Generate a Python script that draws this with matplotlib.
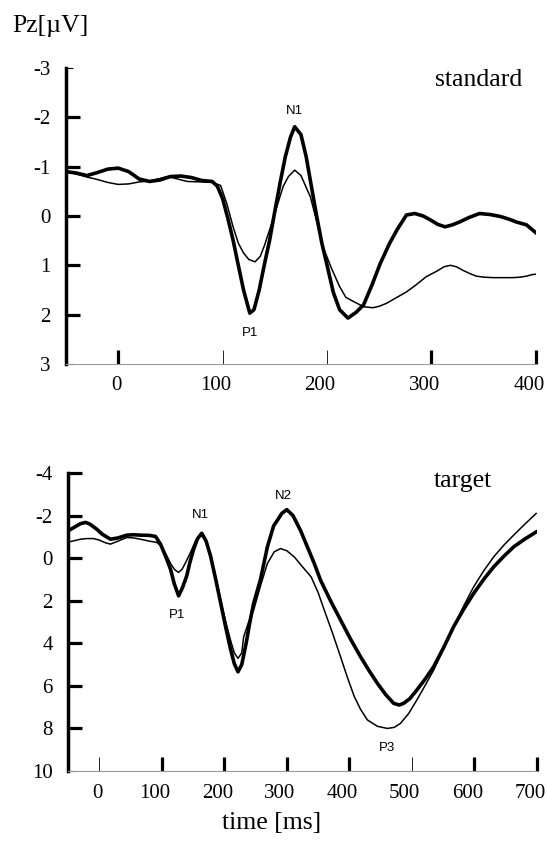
import matplotlib
matplotlib.use("Agg")
import matplotlib.pyplot as plt
from matplotlib.transforms import ScaledTranslation

plt.rcParams['font.family'] = ['Liberation Serif', 'DejaVu Serif']
plt.rcParams['axes.unicode_minus'] = False

# ---- standard condition (upper panel) ----
std_thick_t = [-50, -40, -30, -20, -10, 0, 10, 20, 30, 40, 50, 60, 70, 80, 90,
               95, 100, 105, 110, 115, 120, 126, 130, 135, 140, 145, 150, 155,
               160, 165, 169, 175, 180, 185, 190, 195, 200, 206, 212, 220, 228,
               235, 243, 251, 260, 267, 276, 284, 292, 299, 306, 313, 320, 327,
               336, 346, 356, 366, 375, 381, 391, 400]
std_thick_v = [-0.90, -0.87, -0.82, -0.88, -0.95, -0.97, -0.90, -0.75, -0.70,
               -0.73, -0.80, -0.81, -0.78, -0.72, -0.70, -0.60, -0.35, 0.05,
               0.49, 1.00, 1.50, 1.97, 1.90, 1.50, 0.98, 0.49, -0.10, -0.67,
               -1.20, -1.60, -1.81, -1.65, -1.20, -0.60, 0.00, 0.55, 1.00, 1.55,
               1.90, 2.07, 1.95, 1.80, 1.40, 0.96, 0.55, 0.28, -0.02, -0.05,
               0.00, 0.08, 0.17, 0.22, 0.18, 0.12, 0.03, -0.05, -0.03, 0.01,
               0.07, 0.12, 0.18, 0.34]

std_thin_t = [-50, -40, -30, -20, -10, 0, 10, 20, 30, 40, 47, 55, 66, 80, 90,
              98, 104, 110, 115, 120, 125, 131, 136, 140, 145, 150, 155, 158,
              163, 169, 175, 180, 184, 190, 196, 204, 212, 218, 225, 235, 244,
              250, 257, 266, 276, 285, 295, 305, 312, 318, 324, 330, 337, 343,
              350, 359, 368, 378, 385, 391, 396, 400]
std_thin_v = [-0.90, -0.85, -0.79, -0.74, -0.68, -0.64, -0.65, -0.69, -0.71,
              -0.76, -0.80, -0.76, -0.70, -0.69, -0.68, -0.62, -0.25, 0.22,
              0.55, 0.75, 0.88, 0.93, 0.82, 0.60, 0.28, -0.05, -0.40, -0.60,
              -0.80, -0.93, -0.82, -0.58, -0.39, 0.10, 0.62, 1.05, 1.43, 1.65,
              1.73, 1.84, 1.86, 1.83, 1.77, 1.66, 1.54, 1.40, 1.23, 1.12, 1.03,
              1.00, 1.03, 1.10, 1.17, 1.22, 1.24, 1.25, 1.25, 1.25, 1.24, 1.22,
              1.19, 1.18]

# ---- target condition (lower panel) ----
tgt_thick_t = [-50, -40, -30, -22, -15, -4, 5, 18, 30, 44, 55, 66, 80, 90, 98,
               106, 114, 120, 127, 133, 140, 145, 151, 157, 164, 171, 178, 186,
               194, 202, 210, 216, 222, 228, 235, 241, 247, 258, 269, 279, 285,
               292, 300, 310, 322, 332, 344, 354, 370, 386, 402, 418, 432, 445,
               458, 471, 480, 487, 497, 508, 521, 535, 551, 567, 583, 599, 615,
               631, 647, 663, 681, 699]
tgt_thick_v = [-1.28, -1.45, -1.62, -1.68, -1.60, -1.36, -1.12, -0.89, -0.95,
               -1.08, -1.10, -1.08, -1.07, -1.02, -0.66, -0.10, 0.52, 1.20,
               1.77, 1.40, 0.83, 0.20, -0.42, -0.90, -1.17, -0.80, -0.11, 0.95,
               2.07, 3.20, 4.27, 4.95, 5.34, 5.00, 4.00, 3.00, 2.13, 1.00,
               -0.53, -1.52, -1.78, -2.10, -2.28, -2.00, -1.30, -0.60, 0.25,
               1.03, 2.00, 2.90, 3.80, 4.63, 5.30, 5.88, 6.40, 6.82, 6.90, 6.82,
               6.60, 6.20, 5.70, 5.10, 4.20, 3.22, 2.40, 1.66, 1.00, 0.41,
               -0.08, -0.53, -0.90, -1.23]

tgt_thin_t = [-50, -40, -30, -20, -9, 0, 10, 18, 30, 44, 55, 66, 80, 92, 100,
              108, 115, 121, 127, 133, 140, 146, 154, 162, 170, 178, 186, 194,
              202, 210, 216, 222, 228, 231, 239, 247, 258, 269, 280, 290, 300,
              312, 325, 339, 350, 360, 373, 386, 397, 408, 418, 429, 445, 461,
              472, 482, 495, 508, 521, 535, 551, 567, 583, 599, 615, 631, 647,
              663, 681, 699]
tgt_thin_v = [-0.75, -0.82, -0.89, -0.92, -0.92, -0.85, -0.72, -0.66, -0.80,
              -0.97, -0.95, -0.89, -0.80, -0.74, -0.55, -0.11, 0.30, 0.55,
              0.67, 0.50, 0.10, -0.27, -0.80, -1.13, -0.85, -0.15, 0.85, 1.95,
              2.95, 3.85, 4.45, 4.71, 4.45, 3.70, 3.00, 2.44, 1.30, 0.25,
              -0.30, -0.45, -0.35, -0.06, 0.40, 0.88, 1.60, 2.44, 3.50, 4.63,
              5.60, 6.50, 7.10, 7.60, 7.90, 8.00, 7.95, 7.76, 7.30, 6.67, 6.00,
              5.26, 4.25, 3.22, 2.25, 1.35, 0.60, -0.06, -0.60, -1.08, -1.60,
              -2.10]

# axis ticks
std_xticks = [0, 100, 200, 300, 400]
std_yticks = [-3, -2, -1, 0, 1, 2, 3]
tgt_xticks = [0, 100, 200, 300, 400, 500, 600, 700]
tgt_yticks = [-4, -2, 0, 2, 4, 6, 8, 10]

# component labels (text, time, amplitude)
std_peaks = [("N1", 169, -2.12), ("P1", 126, 2.38)]
tgt_peaks = [("N1", 162, -2.02), ("P1", 124, 2.68), ("N2", 294, -2.93),
             ("P3", 461, 8.9)]

THICK = 2.6
THIN = 1.1


def style_axis(ax, xticks, yticks, thin_x, thin_y):
    """Black left spine with inward ticks, faint grey baseline"""
    for side in ['top', 'right']:
        ax.spines[side].set_visible(False)
    ax.spines['left'].set_linewidth(2.5)
    ax.spines['bottom'].set_linewidth(0.8)
    ax.spines['bottom'].set_color('#9a9a9a')
    ax.set_xticks(xticks)
    ax.set_xticklabels([str(v) for v in xticks])
    ax.set_yticks(yticks)
    ax.set_yticklabels([str(v) for v in yticks])
    ax.tick_params(axis='y', direction='in', length=10, width=2.3, pad=11,
                   labelsize=15)
    ax.tick_params(axis='x', direction='in', length=10, width=2.3, pad=9,
                   labelsize=15)
    # some ticks in the original are only hairlines
    for i, tk in enumerate(ax.xaxis.get_major_ticks()):
        if xticks[i] in thin_x:
            tk.tick1line.set_markeredgewidth(0.6)
            tk.tick1line.set_color('#9a9a9a')
    for i, tk in enumerate(ax.yaxis.get_major_ticks()):
        if yticks[i] in thin_y:
            tk.tick1line.set_markeredgewidth(0.8)
            tk.tick1line.set_markersize(5)
    # the x labels sit a little left of their ticks in the original
    for lbl in ax.get_xticklabels():
        shift = -2 if lbl.get_text() == '0' else -7
        lbl.set_transform(lbl.get_transform() +
                          ScaledTranslation(shift / 100, 0,
                                            ax.figure.dpi_scale_trans))


fig = plt.figure(figsize=(5.47, 8.48), dpi=100)

# upper panel: standard
ax1 = fig.add_axes([0.1207, 0.5708, 0.859, 0.349])
ax1.plot(std_thin_t, std_thin_v, color='black', lw=THIN)
ax1.plot(std_thick_t, std_thick_v, color='black', lw=THICK)
ax1.set_xlim(-50, 400)
ax1.set_ylim(3, -3)
style_axis(ax1, std_xticks, std_yticks, [100, 200], [-3, 3])
for name, t, v in std_peaks:
    ax1.text(t, v, name, family='Liberation Sans', fontsize=9.5,
             ha='center', va='center')
ax1.text(387, -2.64, 'standard', fontsize=18.5, ha='right', va='baseline')

# lower panel: target
ax2 = fig.add_axes([0.1243, 0.0908, 0.857, 0.3514])
ax2.plot(tgt_thin_t, tgt_thin_v, color='black', lw=THIN)
ax2.plot(tgt_thick_t, tgt_thick_v, color='black', lw=THICK)
ax2.set_xlim(-50, 700)
ax2.set_ylim(10, -4)
style_axis(ax2, tgt_xticks, tgt_yticks, [0, 500], [10])
for name, t, v in tgt_peaks:
    ax2.text(t, v, name, family='Liberation Sans', fontsize=9.5,
             ha='center', va='center')
ax2.text(629, -3.33, 'target', fontsize=18.5, ha='right', va='baseline')

fig.text(12 / 547, 1 - 32 / 848, 'Pz[µV]', fontsize=18.5, ha='left',
         va='baseline')
fig.text(272 / 547, 1 - 829 / 848, 'time [ms]', fontsize=18.5, ha='center',
         va='baseline')

fig.savefig('out.png', dpi=100)
